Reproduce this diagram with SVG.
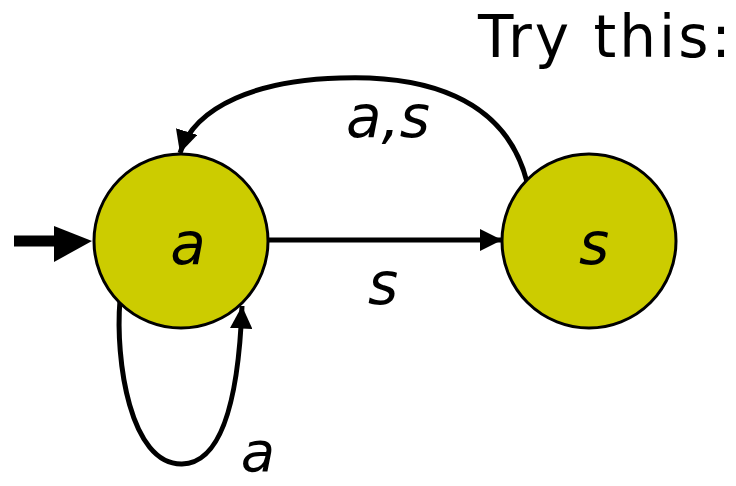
<svg xmlns="http://www.w3.org/2000/svg" width="736" height="486" viewBox="0 0 736 486">
<defs>
<style>
.node{fill:#CCCC00;stroke:#000;stroke-width:3}
.edge{fill:none;stroke:#000;stroke-width:5}
.lbl{font-family:"DejaVu Sans","Liberation Sans",sans-serif;font-style:italic;font-size:58px;fill:#000;text-anchor:middle}
.title{font-family:"DejaVu Sans","Liberation Sans",sans-serif;font-size:58px;letter-spacing:3px;fill:#000}
</style>
<marker id="ah" viewBox="0 0 10 10" refX="10" refY="5" markerWidth="4.5" markerHeight="4.5" orient="auto" markerUnits="strokeWidth">
<path d="M0,0 L10,5 L0,10 z" fill="#000"/>
</marker>
</defs>
<rect width="736" height="486" fill="#fff"/>
<text class="title" x="478" y="57">Try this:</text>
<g id="connectors">
<line x1="14" y1="241" x2="56" y2="241" stroke="#000" stroke-width="11"/>
<path d="M54,226 L92,241 L54,262 z" fill="#000"/>
<path class="edge" d="M268,240 L502,240" marker-end="url(#ah)"/>
<path class="edge" d="M527,182 C505,95 420,75 340,78 C260,80 195,105 180,153" marker-end="url(#ah)"/>
<path class="edge" d="M120,300 C115,360 130,465 182,464 C232,463 240,360 242,306" marker-end="url(#ah)"/>
</g>
<g id="node-a">
<circle class="node" cx="181" cy="241" r="87"/>
<text class="lbl" x="188" y="264">a</text>
</g>
<g id="node-s">
<circle class="node" cx="589" cy="241" r="87"/>
<text class="lbl" x="594" y="264">s</text>
</g>
<g id="labels">
<text class="lbl" x="388" y="137">a,s</text>
<text class="lbl" x="383" y="304">s</text>
<text class="lbl" x="258" y="471" style="font-size:56px">a</text>
</g>
</svg>
